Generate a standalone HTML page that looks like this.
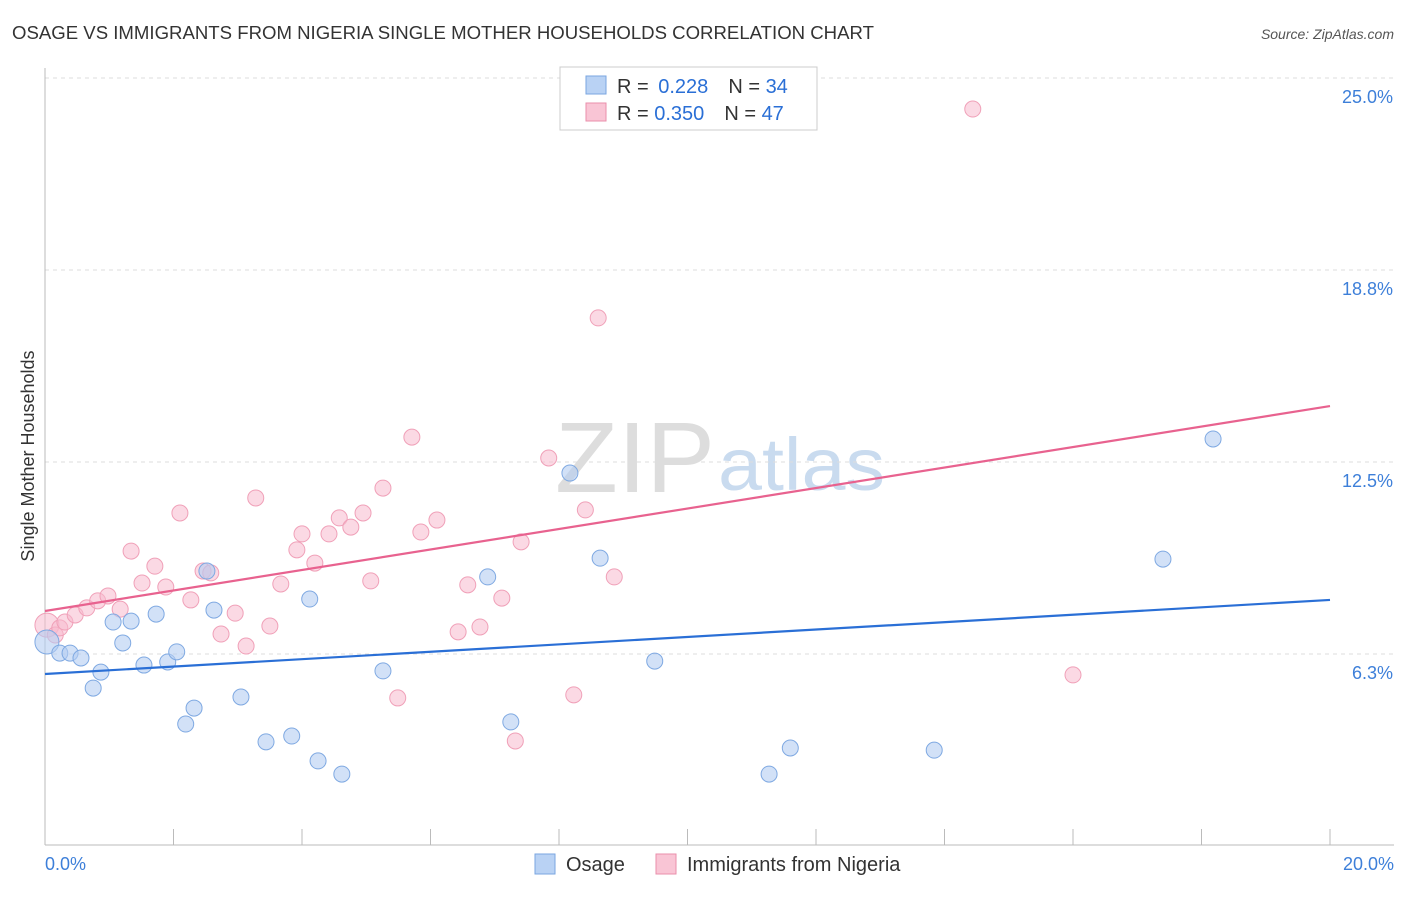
<!DOCTYPE html>
<html><head><meta charset="utf-8"><style>
body{margin:0;background:#fff;font-family:"Liberation Sans",sans-serif}
svg text{font-family:"Liberation Sans",sans-serif}
</style></head><body>
<svg id="chart" width="1406" height="892">
<text x="12" y="39" font-size="18.6" fill="#333">OSAGE VS IMMIGRANTS FROM NIGERIA SINGLE MOTHER HOUSEHOLDS CORRELATION CHART</text>
<text x="1394" y="39" font-size="14" fill="#555" text-anchor="end" font-style="italic">Source: ZipAtlas.com</text>
<text x="555" y="492" font-size="100" fill="#ddd" textLength="160" lengthAdjust="spacingAndGlyphs" font-family="Liberation Serif">ZIP</text>
<text x="718" y="490" font-size="74" fill="#c9dbef" textLength="167" lengthAdjust="spacingAndGlyphs">atlas</text>
<g id="grid"></g>
<g id="axes"></g>
<text transform="translate(34,456) rotate(-90)" font-size="18" fill="#333" text-anchor="middle">Single Mother Households</text>
<g id="marks"></g>
<g>
<rect x="560" y="67" width="257" height="63" fill="#fff" stroke="#ccc"/>
<rect x="586" y="76" width="20" height="18" fill="#b9d2f4" stroke="#7aa6e0"/>
<rect x="586" y="103" width="20" height="18" fill="#f9c5d5" stroke="#ea8fab"/>
<text x="617" y="93" font-size="20" fill="#333">R = <tspan fill="#2a6fd6" dx="4">0.228</tspan><tspan dx="20">N = </tspan><tspan fill="#2a6fd6">34</tspan></text>
<text x="617" y="120" font-size="20" fill="#333">R = <tspan fill="#2a6fd6">0.350</tspan><tspan dx="20">N = </tspan><tspan fill="#2a6fd6">47</tspan></text>
</g>
<g>
<rect x="535" y="854" width="20" height="20" fill="#b9d2f4" stroke="#7aa6e0"/>
<text x="566" y="871" font-size="20" fill="#333">Osage</text>
<rect x="656" y="854" width="20" height="20" fill="#f9c5d5" stroke="#ea8fab"/>
<text x="687" y="871" font-size="20" fill="#333">Immigrants from Nigeria</text>
</g>
</svg>
<script>
const blueX=[0.03,0.23,0.39,0.56,0.75,0.87,1.06,1.21,1.34,1.54,1.73,1.91,2.05,2.19,2.32,2.52,2.63,3.05,3.44,3.84,4.12,4.25,4.62,5.26,6.89,7.25,8.17,8.64,9.49,11.27,11.60,13.84,17.40,18.18];
const blueY=[6.64,6.28,6.28,6.12,5.14,5.66,7.29,6.61,7.32,5.89,7.55,5.99,6.32,3.97,4.49,8.95,7.68,4.85,3.39,3.58,8.04,2.77,2.34,5.70,8.76,4.04,12.14,9.37,6.02,2.34,3.19,3.12,9.34,13.25];
const pinkX=[0.03,0.16,0.23,0.31,0.47,0.65,0.82,0.98,1.17,1.34,1.51,1.71,1.88,2.10,2.27,2.46,2.58,2.74,2.96,3.13,3.28,3.50,3.67,3.92,4.00,4.20,4.42,4.58,4.76,4.95,5.07,5.26,5.49,5.71,5.85,6.10,6.43,6.58,6.77,7.11,7.32,7.41,7.84,8.23,8.41,8.61,8.86,14.44,16.00];
const pinkY=[7.19,6.87,7.10,7.29,7.52,7.75,7.98,8.14,7.71,9.60,8.56,9.11,8.43,10.84,8.01,8.95,8.89,6.90,7.58,6.51,11.33,7.16,8.53,9.64,10.16,9.21,10.16,10.68,10.38,10.84,8.63,11.65,4.82,13.31,10.22,10.61,6.97,8.50,7.13,8.07,3.42,9.90,12.63,4.92,10.94,17.19,8.76,23.99,5.57];
const blueTrend=[5.60,8.01];
const pinkTrend=[7.65,14.32];
const yTicks=[25.0,18.8,12.5,6.3];
const yTickLabels=["25.0%","18.8%","12.5%","6.3%"];
const xTicks=[0,2,4,6,8,10,12,14,16,18,20];
const xLabels=["0.0%","20.0%"];

const NS="http://www.w3.org/2000/svg";
const sx=v=>45+v*64.25;
const sy=v=>78+(25-v)*30.72;
function mk(tag,attrs,parent){const e=document.createElementNS(NS,tag);for(const k in attrs)e.setAttribute(k,attrs[k]);document.getElementById(parent).appendChild(e);return e;}
const gridVals=[25,18.75,12.5,6.25];
yTicks.forEach((t,i)=>{
 const y=sy(gridVals[i]);
 const l=mk('line',{x1:45,x2:1394,y1:y,y2:y,stroke:'#ddd','stroke-dasharray':'4,4'},'grid');
 
 
 const tx=mk('text',{x:1393,y:y+25,'font-size':18,fill:'#3d7fd9','text-anchor':'end'},'axes');
 tx.textContent=yTickLabels[i];
 
 
});
const ax=mk('line',{x1:45,x2:1394,y1:845,y2:845,stroke:'#bbb'},'axes');


const ay=mk('line',{x1:45,x2:45,y1:68,y2:845,stroke:'#bbb'},'axes');


xTicks.forEach(t=>{
 const tk=mk('line',{x1:sx(t),x2:sx(t),y1:829,y2:845,stroke:'#bbb'},'axes');
 
 
});
const xl0=mk('text',{x:45,y:870,'font-size':18,fill:'#3d7fd9'},'axes');xl0.textContent=xLabels[0];


const xl1=mk('text',{x:1394,y:870,'font-size':18,fill:'#3d7fd9','text-anchor':'end'},'axes');xl1.textContent=xLabels[1];



pinkX.forEach((x,i)=>{
 const c=mk('circle',{cx:sx(x),cy:sy(pinkY[i]),r:i==0?12:8,fill:'rgba(248,186,205,0.55)',stroke:'#f0a0b8','stroke-width':1},'marks');
 
 
});
blueX.forEach((x,i)=>{
 const c=mk('circle',{cx:sx(x),cy:sy(blueY[i]),r:i==0?12:8,fill:'rgba(180,205,242,0.6)',stroke:'#7fa9e2','stroke-width':1},'marks');
 
 
});
const tb=mk('line',{x1:sx(0),x2:sx(20),y1:sy(blueTrend[0]),y2:sy(blueTrend[1]),stroke:'#2a6fd6','stroke-width':2.2},'marks');


const tp=mk('line',{x1:sx(0),x2:sx(20),y1:sy(pinkTrend[0]),y2:sy(pinkTrend[1]),stroke:'#e8628f','stroke-width':2.2},'marks');


</script>
</body></html>
